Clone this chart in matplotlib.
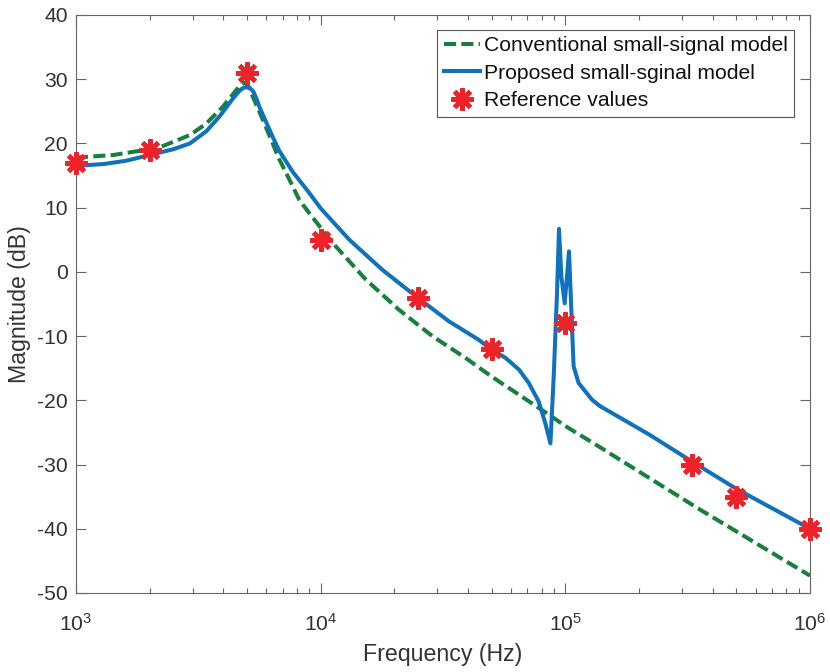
import numpy as np
import matplotlib.pyplot as plt

plt.rcParams['font.family'] = ['Liberation Sans', 'DejaVu Sans']
plt.rcParams['mathtext.fontset'] = 'custom'
plt.rcParams['mathtext.rm'] = 'Liberation Sans'
plt.rcParams['mathtext.it'] = 'Liberation Sans'
plt.rcParams['axes.unicode_minus'] = False

# conventional small-signal model (Hz, dB)
conv_f = [1000, 1420, 2000, 2200, 2920, 3410, 3980, 4520, 4700, 4880, 5050, 5280,
          5800, 6370, 6680, 7400, 8180, 9000, 11200, 15300, 20900, 28600, 39100,
          50000, 83900, 100000, 138600, 157000, 354800, 1000000]
conv_db = [17.8, 18.2, 19.1, 19.4, 21.3, 23.1, 25.7, 28.3, 29.1, 29.5, 29.0, 27.3,
           23.7, 20.0, 18.0, 14.6, 11.2, 9.1, 4.5, -1.2, -5.9, -10.0, -13.4,
           -16.3, -22.0, -24.0, -27.3, -28.6, -37.0, -47.3]

# proposed small-signal model (Hz, dB)
prop_f = [1000, 1300, 1600, 2000, 2500, 2920, 3410, 3860, 4380, 4660, 4800, 4990,
          5150, 5300, 5450, 5630, 6370, 6785, 7680, 8980, 10000, 13100, 17900, 24500,
          33450, 44360, 48700, 57000, 64600, 70900, 77850, 82870, 86900, 89640,
          92470, 94200, 96300, 99400, 101600, 103500, 105800, 108100, 113300,
          128500, 138600, 167300, 221800, 331500, 501000, 1000000]
prop_db = [16.5, 16.8, 17.3, 18.2, 19.1, 20.0, 21.9, 24.2, 27.0, 28.2, 28.6, 28.8,
           28.6, 28.1, 27.1, 25.6, 21.0, 18.8, 15.6, 12.3, 9.9, 5.0, 0.3, -3.8,
           -7.7, -10.6, -11.8, -13.4, -15.2, -17.3, -20.2, -23.6, -26.7, -16.3,
           -3.3, 6.7, -0.7, -4.9, -0.7, 3.2, -5.9, -14.7, -17.3,
           -19.9, -20.9, -22.7, -25.4, -29.6, -33.8, -40.0]

# reference measurements
ref_f = [1000, 2000, 5000, 10000, 25000, 50000, 100000, 330000, 500000, 1000000]
ref_db = [17, 19, 31, 5, -4, -12, -8, -30, -35, -40]

fig = plt.figure(figsize=(8.3, 6.72), dpi=100)
ax = fig.add_axes([76/830, 1-593/672, (810-76)/830, (593-15)/672])

ax.plot(conv_f, conv_db, color='#17803d', lw=2.9, dashes=(3.0, 1.3),
        label='Conventional small-signal model')
ax.plot(prop_f, prop_db, color='#0f72bd', lw=2.9,
        label='Proposed small-sginal model')
ax.plot(ref_f, ref_db, ls='none', marker=(8, 2, 0), ms=16, mew=3.2,
        color='#ee2229', label='Reference values', clip_on=False, zorder=5)

ax.set_xscale('log')
ax.set_xlim(1e3, 1e6)
ax.set_ylim(-50, 40)
ax.set_yticks(np.arange(-50, 41, 10))

text_c = '#333333'
ax.set_xlabel('Frequency (Hz)', fontsize=16.7, color=text_c, labelpad=6)
ax.set_ylabel('Magnitude (dB)', fontsize=16.7, color=text_c, labelpad=4)
ax.tick_params(which='both', direction='in', top=True, right=True,
               colors='#666666', labelcolor=text_c, labelsize=15.2, width=0.8)
ax.tick_params(which='major', length=7)
ax.tick_params(which='minor', length=3.5)
ax.tick_params(axis='y', pad=6)
ax.tick_params(axis='x', pad=14)
for sp in ax.spines.values():
    sp.set_color('#666666')
    sp.set_linewidth(0.8)

leg = ax.legend(loc='upper right', bbox_to_anchor=(0.978, 0.974), fontsize=15.2,
                frameon=True, fancybox=False, framealpha=1, edgecolor='#555555',
                handlelength=1.75, handletextpad=0.15, labelspacing=0.4,
                borderpad=0.3, borderaxespad=0.0, numpoints=1)
leg.get_frame().set_linewidth(0.8)
for t in leg.get_texts():
    t.set_color('#111111')

fig.savefig('out.png', dpi=100)
